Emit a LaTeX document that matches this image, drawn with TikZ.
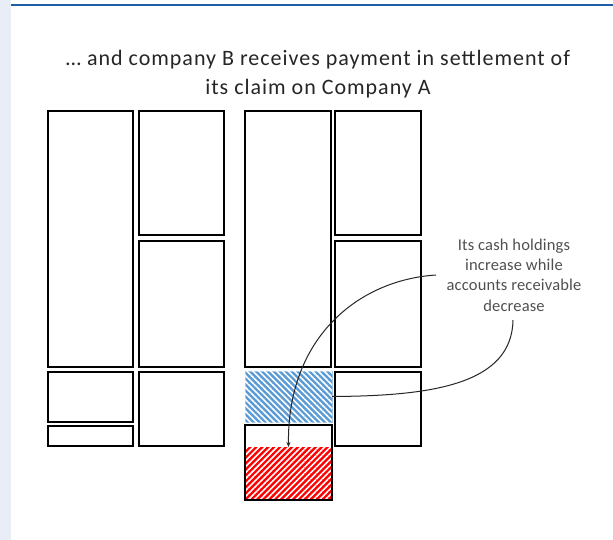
\documentclass[tikz,border=0pt]{standalone}
\usepackage{fontspec}
\setmainfont{Carlito}
\newfontfamily\titlefont[LetterSpace=4.5]{Carlito}
\newfontfamily\notefont[LetterSpace=1]{Carlito}
\usetikzlibrary{patterns.meta,arrows.meta}
\definecolor{stripbg}{HTML}{E9EDF6}
\definecolor{topline}{HTML}{1F5FA8}
\definecolor{hblue}{HTML}{5B9BD5}
\definecolor{hred}{HTML}{FF0000}
\definecolor{notegray}{HTML}{505050}
\tikzset{
  box/.style={draw=black, line width=1.5pt, inner sep=0pt, outer sep=0pt, anchor=north west},
  plain/.style={inner sep=0pt, outer sep=0pt, anchor=north west},
  conn/.style={line width=1pt, draw=black!85},
  titletext/.style={font=\titlefont\fontsize{22}{24}\selectfont, text=black!85, anchor=base, inner sep=0pt},
}
\begin{document}
\begin{tikzpicture}[x=1pt,y=-1pt]
\useasboundingbox (0,0) rectangle (613,540);
\fill[white] (0,0) rectangle (613,540);
\fill[stripbg] (0,0) rectangle (11,540);
\draw[topline, line width=2pt] (11,5.5) -- (613,5.5);
% title
\node[titletext] (title1) at (318,66) {… and company B receives payment in settlement of};
\node[titletext] (title2) at (318,95) {its claim on Company A};
% company A
\node[box, minimum width=85, minimum height=256] (a1) at (48,111) {};
\node[box, minimum width=85, minimum height=50] (a2) at (48,372) {};
\node[box, minimum width=85, minimum height=20] (a3) at (48,426) {};
\node[box, minimum width=85, minimum height=124] (a4) at (139,111) {};
\node[box, minimum width=85, minimum height=126] (a5) at (139,241) {};
\node[box, minimum width=85, minimum height=74] (a6) at (139,372) {};
% company B
\node[box, minimum width=86, minimum height=256] (b1) at (245,111) {};
\node[plain, minimum width=87, minimum height=51, fill=hblue, draw=hblue!60, line width=0.8pt,
  postaction={pattern={Lines[angle=-45,distance=4.2pt,line width=1.6pt]}, pattern color=white}] (blue) at (245,371) {};
\node[box, minimum width=87, minimum height=75] (b2) at (245,425) {};
\node[plain, minimum width=86, minimum height=53, fill=hred,
  postaction={pattern={Lines[angle=45,distance=4.2pt,line width=1.6pt]}, pattern color=white}] (red) at (245.5,447) {};
\draw[black, line width=1.5pt] (b2.north west) rectangle (b2.south east);
\node[box, minimum width=86, minimum height=124] (b3) at (335,111) {};
\node[box, minimum width=86, minimum height=126] (b4) at (335,241) {};
\node[box, minimum width=86, minimum height=74] (b5) at (335,372) {};
% note
\node[font=\notefont\fontsize{16.5}{20.3}\selectfont, text=notegray, align=center, inner sep=0pt] (note) at (514,275) {Its cash holdings\\increase while\\accounts receivable\\decrease};
\coordinate (s1) at (436,275);
\coordinate (s2) at (513,320);
\draw[conn, -{Stealth[length=5pt,width=4pt]}] (s1) .. controls (358,280) and (287,338) .. (red.north);
\draw[conn] (s2) .. controls (512,385) and (430,396) .. (blue.east);
\end{tikzpicture}
\end{document}
